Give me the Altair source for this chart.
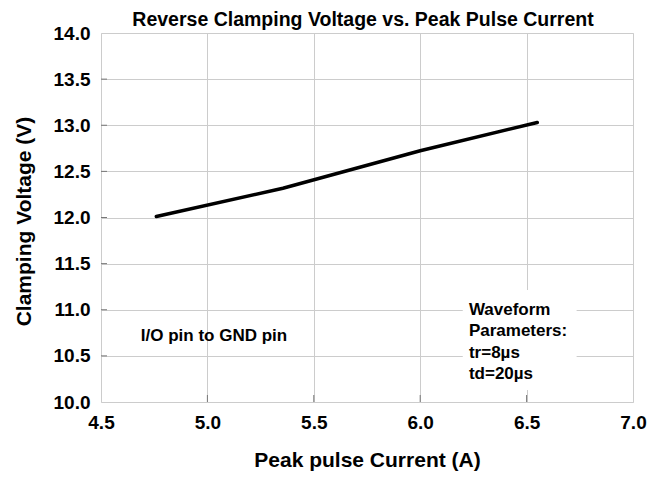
import altair as alt
import pandas as pd

# Data
current = [4.76, 5.355, 6.0, 6.55]
voltage = [12.01, 12.317, 12.724, 13.03]

x_ticks = [4.5, 5.0, 5.5, 6.0, 6.5, 7.0]
y_ticks = [10.0, 10.5, 11.0, 11.5, 12.0, 12.5, 13.0, 13.5, 14.0]

title_text = ["Reverse Clamping Voltage vs. Peak Pulse Current"]

note_left_text = ["I/O pin to GND pin"]
note_left_x = [4.687]
note_left_y = [10.66]

wave_text = ["Waveform", "Parameters:", "tr=8\u00b5s", "td=20\u00b5s"]
wave_x = [6.229, 6.229, 6.229, 6.229]
wave_y = [10.943, 10.712, 10.48, 10.248]

box_x = [6.20]
box_x2 = [6.735]
box_y = [11.215]
box_y2 = [10.13]

FONT = "Liberation Sans"

df = pd.DataFrame({"current": current, "voltage": voltage})
notes = pd.DataFrame({"x": note_left_x + wave_x, "y": note_left_y + wave_y,
                      "t": note_left_text + wave_text})
box = pd.DataFrame({"x": box_x, "x2": box_x2, "y": box_y, "y2": box_y2})
xt = pd.DataFrame({"v": x_ticks[1:-1]})
yt = pd.DataFrame({"v": y_ticks[1:-1]})
tt = pd.DataFrame({"t": title_text})

xscale = alt.Scale(domain=[4.5, 7.0], nice=False, zero=False)
yscale = alt.Scale(domain=[10.0, 14.0], nice=False, zero=False)

xaxis = alt.Axis(values=x_ticks, format=".1f", title="Peak pulse Current (A)",
                 grid=True, gridColor="#cccccc", gridWidth=1, ticks=False, domain=False,
                 labelFont=FONT, labelFontSize=19, labelFontWeight="bold", labelColor="black",
                 labelPadding=11, labelFlush=False,
                 titleFont=FONT, titleFontSize=21, titleFontWeight="bold", titleColor="black",
                 titleY=64, titleBaseline="alphabetic")
yaxis = alt.Axis(values=y_ticks, format=".1f", title="Clamping Voltage (V)",
                 grid=True, gridColor="#cccccc", gridWidth=1, ticks=False, domain=False,
                 labelFont=FONT, labelFontSize=19, labelFontWeight="bold", labelColor="black",
                 labelPadding=11, labelFlush=False,
                 titleFont=FONT, titleFontSize=21, titleFontWeight="bold", titleColor="black",
                 titleX=-77, titleY=188, titleAngle=-90, titleBaseline="middle", titleAlign="center")

base = alt.Chart(df)

line = base.mark_line(color="black", strokeWidth=3.5, strokeCap="round").encode(
    x=alt.X("current:Q", scale=xscale, axis=xaxis),
    y=alt.Y("voltage:Q", scale=yscale, axis=yaxis),
)

rect = alt.Chart(box).mark_rect(color="white").encode(
    x=alt.X("x:Q", scale=xscale), x2="x2:Q",
    y=alt.Y("y:Q", scale=yscale), y2="y2:Q",
)

text = alt.Chart(notes).mark_text(align="left", baseline="alphabetic", font=FONT,
                                  fontSize=17, fontWeight="bold", color="black").encode(
    x=alt.X("x:Q", scale=xscale), y=alt.Y("y:Q", scale=yscale), text="t:N"
)

title = alt.Chart(tt).mark_text(align="center", baseline="alphabetic", font=FONT,
                                fontSize=19.5, fontWeight="bold", color="black").encode(
    x=alt.value(262), y=alt.value(-7.5), text="t:N"
)

ytick_marks = alt.Chart(yt).mark_rule(color="#777777", strokeWidth=1).encode(
    y=alt.Y("v:Q", scale=yscale), x=alt.value(0), x2=alt.value(6)
)
xtick_marks = alt.Chart(xt).mark_rule(color="#777777", strokeWidth=1).encode(
    x=alt.X("v:Q", scale=xscale), y=alt.value(369), y2=alt.value(362)
)

chart = alt.layer(ytick_marks, xtick_marks, rect, line, text, title).properties(
    width=532, height=369,
    autosize=alt.AutoSizeParams(type="none"),
    padding={"left": 93, "top": 25, "right": 22, "bottom": 73},
).configure_view(stroke="#222222", strokeWidth=1.2).configure(background="white")

chart.save("out.html", embed_options={"renderer": "svg", "actions": False})
